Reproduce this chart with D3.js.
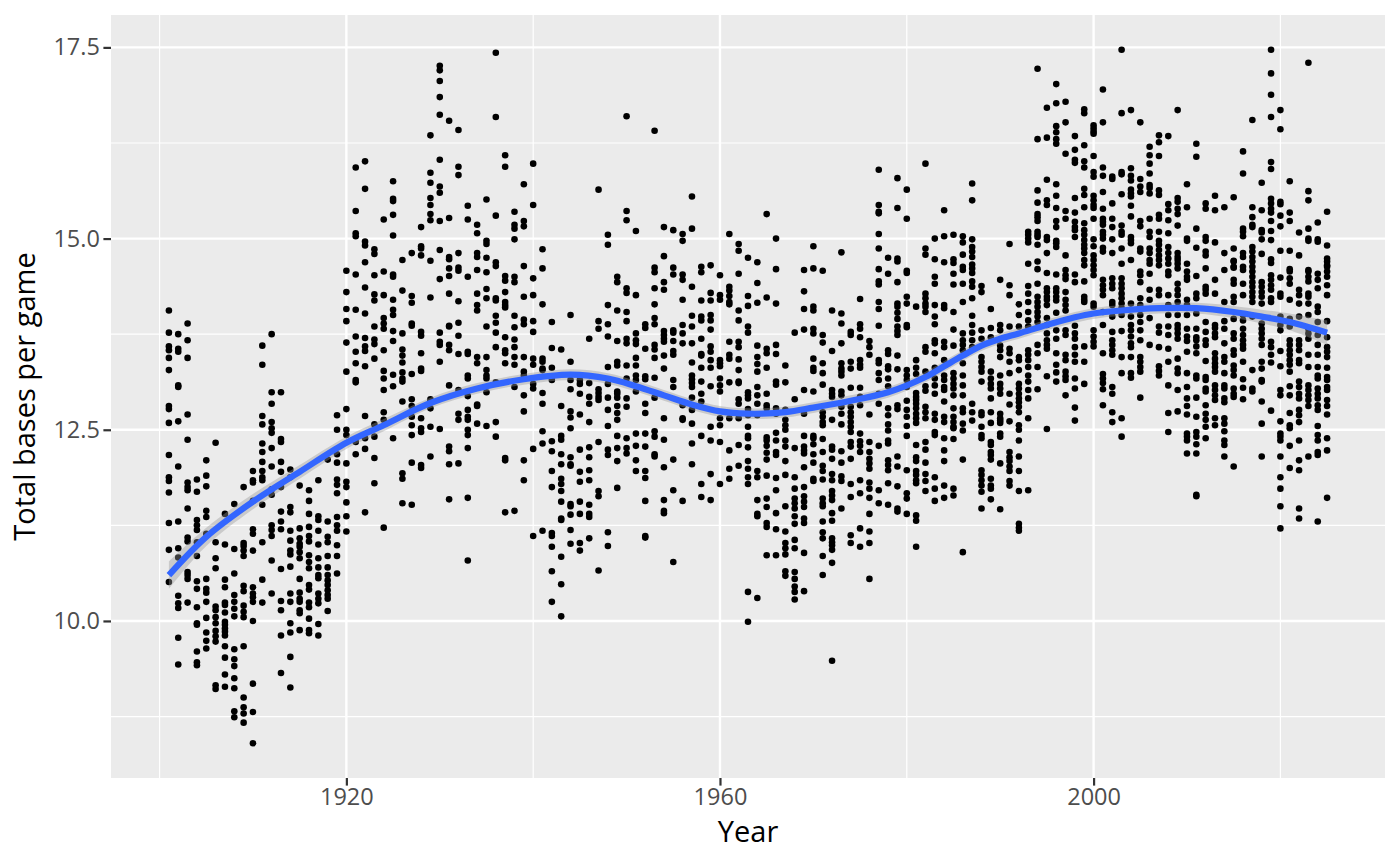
<!DOCTYPE html>
<html>
<head>
<meta charset="utf-8">
<script src="https://cdn.jsdelivr.net/npm/d3@7"></script>
<style>
  body { margin: 0; background: #fff; }
  text { font-family: "Noto Sans", sans-serif; }
</style>
</head>
<body>
<div id="chart"></div>
<script>
const firstYear = 1901;

// one row per season
const basesByYear = [
  [14.06,13.77,13.59,13.54,13.44,13.28,12.81,12.77,12.59,12.17,11.88,11.83,11.68,11.28,10.93,10.51],
  [13.75,13.56,13.52,13.08,13.06,12.61,12.02,11.30,10.95,10.83,10.33,10.23,10.17,9.78,9.43],
  [13.89,13.67,13.44,12.70,12.37,11.81,11.75,11.71,11.47,11.09,11.04,10.64,10.60,10.55,10.24],
  [11.85,11.69,11.32,11.25,11.19,11.03,10.85,10.52,10.42,10.18,9.97,9.95,9.60,9.46,9.42],
  [12.10,11.90,11.76,11.44,11.36,11.14,10.55,10.42,10.37,10.25,10.04,9.85,9.74,9.64],
  [12.33,11.03,10.82,10.69,10.19,10.14,10.05,9.97,9.87,9.80,9.73,9.16,9.11],
  [11.40,11.00,10.54,10.44,10.24,10.21,10.11,9.99,9.95,9.90,9.86,9.81,9.67,9.52,9.30,9.14],
  [11.53,10.94,10.62,10.34,10.25,10.16,10.06,9.63,9.50,9.41,9.25,9.12,8.82,8.74],
  [11.75,11.02,10.98,10.92,10.85,10.46,10.39,10.20,10.12,10.05,9.67,9.00,8.87,8.79,8.67],
  [11.96,11.84,11.81,11.57,11.20,11.14,10.92,10.44,10.36,10.31,10.25,10.00,9.18,8.81,8.40],
  [13.60,13.35,12.68,12.57,12.32,12.21,12.08,11.96,11.88,11.84,11.52,11.03,10.54,10.24],
  [13.75,12.99,12.84,12.60,12.52,12.46,12.26,12.02,11.72,11.65,11.25,11.19,11.11,10.79,10.36],
  [12.99,12.38,12.34,12.08,11.95,11.75,11.43,11.30,11.20,10.68,10.26,10.14,9.81,9.32],
  [11.98,11.88,11.49,11.42,11.18,11.05,10.92,10.87,10.71,10.36,10.25,9.97,9.85,9.53,9.13],
  [11.77,11.21,11.08,11.01,10.97,10.90,10.82,10.55,10.37,10.29,10.25,10.14,10.10,9.88],
  [11.71,11.57,11.40,11.23,11.11,11.04,10.86,10.77,10.69,10.47,10.41,10.24,10.18,10.03,9.88,9.84],
  [11.84,11.37,11.32,11.18,11.00,10.82,10.70,10.60,10.56,10.36,10.29,10.23,9.96,9.81],
  [12.11,11.30,11.10,11.03,10.85,10.70,10.60,10.53,10.47,10.40,10.34,10.29,10.13],
  [12.69,12.50,12.18,12.07,11.85,11.78,11.67,11.36,11.25,11.18,10.99,10.85,10.62],
  [14.58,14.30,14.08,13.92,13.64,13.26,12.77,12.50,12.43,12.06,11.82,11.75,11.55,11.37,11.17],
  [15.93,15.36,15.07,15.03,14.53,14.07,13.72,13.52,13.37,13.15,13.12,12.34,12.18],
  [16.01,15.65,14.96,14.91,14.69,14.36,14.02,13.70,13.59,13.53,13.33,12.68,12.39,12.25,11.42],
  [14.86,14.80,14.52,14.27,14.19,13.85,13.68,13.62,13.43,12.57,12.41,12.13,11.80],
  [15.25,14.57,14.26,13.96,13.89,13.82,13.54,13.27,13.17,13.02,12.73,12.63,11.22],
  [15.75,15.52,15.49,15.31,15.04,14.53,14.50,14.20,14.07,14.00,13.79,13.66,13.22,13.07,12.39],
  [14.72,14.32,13.76,13.55,13.47,13.38,13.25,13.17,13.13,12.87,11.93,11.86,11.54],
  [14.81,14.25,14.16,13.89,13.86,13.23,12.90,12.81,12.67,12.56,12.43,12.07,11.52],
  [15.15,14.90,14.87,14.78,13.78,13.73,13.50,13.30,13.27,12.65,12.52,12.47,12.04,12.00],
  [16.35,15.86,15.73,15.53,15.44,15.32,15.24,14.71,14.23,12.90,12.87,12.78,12.54,12.15],
  [17.26,17.20,17.06,16.85,16.62,16.03,15.68,15.60,15.23,14.85,14.47,13.77,13.65,13.61,13.39,12.51],
  [16.54,15.27,14.76,14.73,14.61,14.51,14.28,13.86,13.85,13.61,13.54,13.08,12.28,12.22,12.05,11.59],
  [16.42,15.94,15.83,14.81,14.62,14.58,14.18,13.90,13.73,13.49,13.02,12.71,12.63,12.06],
  [15.43,15.25,14.50,13.52,13.49,13.21,13.17,12.94,12.76,12.67,12.63,12.50,12.43,12.26,11.61,10.79],
  [15.18,15.07,14.81,14.76,14.59,14.28,14.13,14.06,13.45,13.37,12.83,12.81,12.58],
  [15.51,14.97,14.93,14.75,14.56,14.34,14.22,13.85,13.45,13.28,13.21,13.17,12.99,12.55],
  [17.43,16.59,15.30,14.69,14.64,14.22,14.19,13.99,13.90,13.77,13.58,13.12,12.60,12.41],
  [16.09,15.94,14.51,14.45,14.30,14.17,14.13,14.10,13.71,13.54,13.50,13.37,12.13,12.10,11.42],
  [15.35,15.18,15.13,14.99,14.50,14.43,13.99,13.84,13.68,13.58,13.45,13.35,13.06,11.44],
  [15.71,15.23,15.16,14.64,14.24,13.94,13.88,13.45,13.26,13.21,12.95,12.74,12.10,11.84],
  [15.98,15.44,14.48,14.26,13.92,13.78,13.43,13.35,13.10,13.04,12.25,11.11],
  [14.86,14.61,14.14,13.43,13.39,13.30,13.28,12.98,12.84,12.48,12.32,11.18],
  [13.91,13.57,13.31,13.15,12.35,12.22,11.96,11.75,11.15,11.11,10.97,10.65,10.25],
  [13.55,12.81,12.42,12.37,12.18,12.05,11.86,11.79,11.70,11.56,11.34,11.32,10.84,10.48,10.06],
  [14.00,13.39,13.15,13.03,12.74,12.66,12.52,12.14,12.05,12.03,11.53,11.50,11.39,11.19,11.01],
  [13.15,13.10,12.97,12.70,12.24,11.95,11.82,11.56,11.40,11.02,10.92],
  [13.69,13.11,12.93,12.84,12.60,12.27,12.14,11.97,11.84,11.52,11.40,11.36,11.08],
  [15.64,13.92,13.82,13.03,12.98,12.93,12.89,12.34,11.70,11.63,10.66],
  [15.05,14.92,14.13,13.88,13.72,13.32,13.10,12.92,12.76,12.55,12.24,12.17,11.16,10.98],
  [14.50,14.43,14.06,13.66,13.39,13.34,13.00,12.97,12.92,12.81,12.72,12.63,12.42,12.26,12.09,11.74],
  [16.60,15.36,15.24,14.35,14.29,14.04,13.92,13.69,13.63,13.34,13.17,12.91,12.80,12.39,12.26,12.19],
  [15.10,14.26,13.76,13.67,13.62,13.44,13.34,13.21,13.15,13.00,12.45,12.29,12.10,11.96],
  [13.88,13.83,13.56,13.20,13.16,12.84,12.72,12.45,12.28,11.96,11.87,11.57,11.11,11.09],
  [16.41,14.62,14.56,14.35,14.14,13.96,13.88,13.61,13.55,13.44,13.18,12.92,12.48,12.41,12.18,12.15],
  [15.15,14.77,14.43,14.33,13.79,13.74,13.69,13.65,13.47,13.30,12.65,12.37,12.01,11.58,11.44,11.41],
  [15.11,14.62,14.53,13.80,13.77,13.66,13.53,13.48,13.15,13.06,12.11,11.71,10.77],
  [15.06,14.97,14.53,14.46,14.20,13.87,13.76,13.63,12.82,12.65,12.63,11.57],
  [15.55,15.13,14.37,13.99,13.85,13.63,13.38,13.21,13.16,13.11,13.06,12.92,12.76,12.58,12.32,12.05],
  [14.63,14.56,14.19,13.98,13.93,13.69,13.49,13.47,13.31,13.13,12.97,12.87,12.42,11.79,11.62],
  [14.65,14.29,14.19,14.00,13.93,13.81,13.59,13.52,13.41,13.31,13.07,12.54,12.36,11.92,11.58],
  [14.52,14.26,14.20,13.41,13.37,13.33,13.17,13.08,13.00,12.65,12.56,12.34,11.79],
  [15.06,14.37,14.32,14.25,14.17,14.14,13.65,13.48,13.43,13.12,12.65,12.23,11.99,11.86],
  [14.93,14.84,14.54,14.06,13.93,13.65,13.58,13.42,13.28,13.13,13.11,12.90,12.84,12.65,12.30,12.03],
  [14.75,14.25,14.12,13.85,13.77,12.99,12.95,12.91,12.77,12.69,12.54,12.42,12.39,12.27,12.09,11.99,11.88,11.79,10.38,9.99],
  [14.69,14.42,14.16,13.60,13.45,13.36,13.26,13.06,12.95,12.84,12.69,11.96,11.88,11.58,11.40,11.37,10.30],
  [15.32,14.23,13.56,13.50,13.31,12.97,12.82,12.78,12.40,12.36,12.29,12.20,12.11,11.90,11.60,11.49,11.28,11.23,10.86],
  [15.00,14.60,14.15,13.61,13.49,13.13,13.09,12.78,12.71,12.46,12.36,12.21,12.17,11.87,11.71,11.41,11.20,10.86],
  [13.34,13.12,12.76,12.63,12.56,12.50,12.36,12.28,12.09,11.91,11.50,11.17,11.02,10.95,10.87,10.65,10.59],
  [13.77,12.90,12.26,11.88,11.73,11.60,11.54,11.47,11.37,11.27,11.06,10.95,10.64,10.55,10.45,10.38,10.28],
  [14.59,14.31,14.08,13.81,13.02,12.71,12.42,12.28,12.23,12.19,12.01,11.75,11.63,11.56,11.49,11.34,11.28,10.89,10.39],
  [14.90,14.61,14.11,14.06,13.82,13.76,13.43,13.31,13.27,13.00,12.42,12.39,12.31,12.18,12.07,11.86,11.83],
  [14.58,13.74,13.64,13.37,13.24,13.09,12.73,12.67,12.60,12.56,12.38,12.21,12.03,11.96,11.85,11.60,11.54,11.50,11.30,11.16,11.08,10.85,10.60],
  [14.06,13.53,13.02,12.97,12.93,12.63,12.28,12.24,12.12,11.92,11.84,11.70,11.64,11.58,11.41,11.31,11.08,11.03,10.99,10.93,10.76,9.48],
  [14.82,14.02,13.89,13.63,13.37,13.30,13.26,13.21,13.00,12.95,12.80,12.71,12.57,12.22,12.07,11.89,11.83,11.47],
  [13.78,13.74,13.39,13.30,13.05,12.80,12.73,12.67,12.60,12.54,12.47,12.34,12.28,12.12,11.79,11.62,11.12,11.02],
  [14.21,13.88,13.82,13.71,13.41,13.35,13.31,13.05,12.93,12.82,12.45,12.35,12.29,12.21,11.84,11.67,11.21,10.97],
  [13.66,13.58,13.48,12.70,12.34,12.21,12.12,12.06,11.99,11.81,11.73,11.61,11.40,11.17,11.02,10.55],
  [15.90,15.44,15.35,15.33,15.06,14.87,14.60,14.44,14.40,14.17,14.08,13.86,13.41,13.37,13.24,13.15,12.97,12.84,12.29,11.71,11.54],
  [14.75,14.54,13.54,13.49,13.33,13.29,13.17,13.07,12.78,12.69,12.57,12.49,12.36,12.32,12.10,12.04,11.97,11.80,11.52],
  [15.79,15.40,14.74,14.70,14.43,14.15,14.11,14.03,13.95,13.85,13.79,13.74,13.47,13.29,12.82,12.77,12.15,12.02,11.76,11.47,11.43],
  [15.64,15.26,14.58,14.55,14.24,14.15,13.87,13.84,13.28,13.21,13.15,13.06,12.88,12.76,12.67,12.55,12.42,11.97,11.67,11.60,11.40],
  [14.11,13.41,13.31,13.23,12.98,12.93,12.89,12.84,12.78,12.71,12.65,12.59,12.30,12.14,12.09,11.96,11.91,11.84,11.80,11.38,11.31,10.97],
  [15.98,14.87,14.79,14.28,14.22,14.15,14.11,14.04,13.58,13.52,13.26,13.07,13.01,12.80,12.73,12.65,12.34,12.24,12.07,11.92,11.83,11.70],
  [15.00,14.73,14.50,14.41,14.13,13.98,13.88,13.67,13.63,13.50,13.31,13.17,13.08,12.97,12.71,12.63,12.47,12.43,11.88,11.73,11.57],
  [15.37,15.03,14.69,14.13,14.09,13.65,13.58,13.41,13.21,13.15,13.06,13.02,12.87,12.67,12.60,12.39,12.23,12.09,11.77,11.61],
  [15.05,14.73,14.68,14.54,14.40,14.04,13.81,13.60,13.24,13.17,13.10,13.04,12.95,12.78,12.67,12.60,12.54,12.52,12.38,11.73,11.64],
  [15.03,14.95,14.79,14.63,14.59,14.41,14.17,13.76,13.67,13.61,13.54,13.37,13.21,13.08,12.95,12.78,12.73,12.58,12.49,12.11,10.90],
  [15.72,15.50,14.99,14.89,14.83,14.76,14.66,14.61,14.55,14.44,14.37,14.22,13.99,13.87,13.77,13.67,13.58,12.84,12.73,12.62],
  [14.38,14.30,13.80,13.69,13.45,13.39,13.32,13.26,13.13,12.73,12.69,12.54,12.43,12.39,11.97,11.91,11.84,11.77,11.69,11.47],
  [14.08,13.83,13.71,13.26,13.17,13.10,13.04,12.91,12.73,12.59,12.34,12.30,12.21,12.17,12.11,11.86,11.77,11.73,11.59],
  [14.46,13.87,13.80,13.60,13.54,13.45,13.21,13.10,13.04,12.97,12.71,12.62,12.65,12.59,12.45,12.41,12.06,11.46],
  [14.93,14.39,14.26,13.85,13.56,13.50,13.39,13.24,12.97,12.83,12.61,12.21,12.14,12.09,12.02,11.96,11.83,11.77],
  [14.14,14.00,13.85,13.45,13.41,13.28,13.10,13.04,12.97,12.91,12.86,12.80,12.73,12.56,12.50,12.36,12.15,11.96,11.70,11.27,11.22,11.18],
  [15.09,15.05,15.00,14.95,14.67,14.38,14.28,14.17,14.04,13.93,13.85,13.54,13.48,13.41,13.32,13.21,13.13,13.02,12.91,12.65,11.71],
  [17.22,16.30,15.63,15.47,15.32,15.28,15.23,15.09,15.05,15.02,14.92,14.70,14.60,14.41,14.24,14.17,14.11,14.04,13.98,13.91,13.61,13.50,13.32,13.03],
  [16.71,16.32,15.77,15.50,15.44,15.02,14.98,14.81,14.55,14.35,14.30,14.24,14.20,14.13,13.96,13.87,13.76,13.67,13.61,13.56,13.20,12.51],
  [17.02,16.77,16.47,16.39,16.30,16.24,15.71,15.56,15.40,15.23,15.15,14.97,14.89,14.94,14.53,14.35,14.30,14.24,14.19,14.03,13.80,13.69,13.50,13.35,13.25,13.13],
  [16.79,16.52,16.11,15.36,15.26,14.78,14.59,14.52,14.47,14.30,14.20,14.13,14.06,13.80,13.74,13.48,13.41,13.26,13.20,13.15,12.95],
  [16.34,16.16,16.03,15.99,15.53,15.34,15.22,15.15,15.11,15.02,14.53,14.43,13.86,13.76,13.69,13.58,13.48,13.39,13.17,13.04,12.79,12.62],
  [16.69,16.64,16.22,16.01,15.93,15.65,15.57,15.41,15.20,15.11,15.05,14.98,14.92,14.87,14.81,14.72,14.65,14.44,14.24,14.20,14.17,13.59,13.39,13.10],
  [16.48,16.44,16.40,16.37,16.08,15.87,15.81,15.56,15.50,15.44,15.40,15.26,14.99,14.90,14.78,14.72,14.65,14.59,14.52,14.15,14.11,13.80,13.72,13.65,13.59],
  [16.95,16.52,15.93,15.82,15.61,15.39,15.26,15.22,15.18,15.09,15.05,15.00,14.88,14.83,14.46,14.39,14.33,14.26,14.04,13.87,13.50,13.23,13.17,13.11,13.03,12.82],
  [15.81,15.78,15.46,15.26,15.15,14.99,14.81,14.48,14.41,14.35,14.17,14.13,13.98,13.78,13.67,13.61,13.54,13.48,13.06,12.97,12.73,12.60],
  [17.47,16.64,15.87,15.84,15.58,15.17,15.09,15.05,14.87,14.67,14.48,14.41,14.35,14.28,14.22,14.15,14.09,14.00,13.79,13.45,13.24,12.65,12.41],
  [16.68,15.92,15.82,15.76,15.64,15.59,15.55,15.43,15.29,15.02,14.98,14.94,14.72,14.15,13.98,13.87,13.80,13.72,13.63,13.58,13.45,13.24,13.18],
  [16.52,15.78,15.68,15.61,15.23,15.16,14.87,14.83,14.57,14.52,14.43,14.22,14.13,14.00,13.91,13.80,13.67,13.45,13.39,13.32,13.26,12.92],
  [16.20,16.09,15.98,15.85,15.70,15.66,15.59,15.26,15.09,15.02,14.87,14.81,14.72,14.67,14.54,14.33,14.20,13.96,13.61],
  [16.35,16.26,16.08,15.63,15.57,15.31,15.26,15.09,14.97,14.92,14.85,14.78,14.72,14.65,14.33,14.26,13.85,13.77,13.58,13.33,13.27,13.21],
  [16.34,15.45,15.37,15.24,15.07,14.89,14.81,14.74,14.67,14.57,14.52,14.26,14.13,14.00,13.85,13.74,13.56,13.39,13.08,12.72,12.47],
  [16.68,15.53,15.48,15.39,15.32,15.17,14.81,14.76,14.72,14.67,14.61,14.41,14.33,14.26,14.17,14.00,13.87,13.82,13.76,13.69,13.43,13.30,13.24,13.02,12.74],
  [15.71,15.41,15.00,14.97,14.67,14.57,14.50,14.46,14.20,14.13,14.00,13.82,13.72,13.66,13.52,13.24,13.06,12.91,12.81,12.70,12.45,12.41,12.36,12.19],
  [16.24,16.07,15.13,14.88,14.51,14.28,14.22,14.02,13.82,13.71,13.67,13.59,13.50,13.21,13.17,12.92,12.67,12.47,12.41,12.31,12.19,11.65,11.63],
  [15.46,15.39,15.02,14.97,14.83,14.78,14.61,14.37,14.33,14.28,13.91,13.78,13.67,13.61,13.40,13.19,13.15,13.04,13.00,12.82,12.71,12.63,12.54,12.39],
  [15.56,15.37,14.95,14.46,14.28,13.87,13.83,13.76,13.71,13.50,13.43,13.37,13.32,13.26,13.08,13.02,12.95,12.89,12.65,12.56],
  [15.41,14.81,14.59,14.17,13.92,13.82,13.63,13.45,13.39,13.24,13.08,13.04,12.91,12.86,12.65,12.58,12.48,12.36,12.30,12.15],
  [15.54,14.87,14.71,14.62,14.70,14.63,14.46,14.41,14.24,14.17,13.95,13.76,13.69,13.54,13.48,13.34,13.28,13.21,13.04,12.97,12.93,12.02],
  [16.14,15.85,15.13,15.09,15.03,14.81,14.76,14.63,14.59,14.41,14.26,14.00,13.93,13.82,13.74,13.67,13.61,13.56,13.39,13.16,13.05,12.90],
  [16.55,15.41,15.28,15.18,15.15,14.89,14.83,14.76,14.70,14.63,14.57,14.50,14.43,14.37,14.30,14.24,14.17,13.98,13.28,13.04,13.00],
  [15.73,15.37,15.11,15.08,14.99,14.80,14.43,14.37,14.30,14.24,14.15,13.89,13.82,13.76,13.69,13.61,13.39,13.30,13.15,13.13,12.87,12.58,12.15],
  [17.47,17.16,16.88,16.59,16.00,15.91,15.52,15.46,15.39,15.34,15.23,15.10,14.98,14.73,14.68,14.52,14.46,14.39,14.33,14.22,14.17,13.65,13.58,13.48,13.38,12.75],
  [16.68,16.43,15.48,15.45,15.30,15.16,14.84,14.49,14.28,14.24,13.98,13.87,13.80,13.53,13.33,13.02,12.95,12.61,12.45,12.41,12.36,12.15,11.88,11.73,11.50,11.21],
  [15.75,15.34,15.23,14.84,14.60,14.57,14.48,14.41,14.20,13.95,13.85,13.67,13.61,13.54,13.48,13.41,13.35,13.26,13.07,12.95,12.72,12.56,12.52,12.29,12.00],
  [15.08,14.78,14.33,14.26,14.15,13.98,13.67,13.61,13.54,13.41,13.37,13.13,13.06,12.97,12.91,12.76,12.69,12.60,12.36,12.10,11.97,11.47,11.34],
  [17.30,15.62,15.50,15.13,15.00,14.97,14.59,14.57,14.50,14.44,14.28,14.24,14.15,14.00,13.82,13.76,13.69,13.48,13.32,13.08,13.02,12.95,12.89,12.81,12.15],
  [15.21,14.99,14.96,14.54,14.46,14.35,14.11,14.04,13.91,13.74,13.61,13.48,13.32,13.21,13.17,13.04,12.97,12.91,12.82,12.76,12.55,12.43,12.36,12.21,12.17,11.30],
  [15.35,14.91,14.74,14.70,14.65,14.63,14.57,14.50,14.39,14.26,13.92,13.71,13.58,13.52,13.45,13.31,13.19,13.15,13.06,13.02,12.89,12.81,12.70,12.39,12.23,11.61]
];

// smooth line and its band
const smoothYears = [1901,1905,1910,1915,1920,1924,1929,1934,1939,1944,1948,1951,1954,1957,1960,1963,1967,1970,1974,1978,1982,1984,1986,1988,1990,1992,1995,1998,2000,2003,2007,2011,2015,2018,2021,2025];
const smoothValues = [10.60,11.10,11.56,11.95,12.33,12.56,12.85,13.04,13.16,13.22,13.17,13.07,12.95,12.83,12.74,12.71,12.73,12.79,12.88,12.99,13.19,13.33,13.47,13.60,13.69,13.76,13.87,13.97,14.02,14.06,14.09,14.09,14.04,13.98,13.91,13.77];
const smoothHalfBand = [0.18,0.12,0.10,0.09,0.08,0.08,0.07,0.07,0.07,0.07,0.07,0.07,0.07,0.07,0.07,0.07,0.07,0.07,0.07,0.07,0.07,0.07,0.07,0.07,0.07,0.07,0.07,0.07,0.07,0.07,0.07,0.07,0.08,0.09,0.11,0.16];

const xMajor = [1920, 1960, 2000];
const xMinor = [1900, 1940, 1980, 2020];
const yMajor = [10, 12.5, 15, 17.5];
const yMinor = [8.75, 11.25, 13.75, 16.25];

const width = 1400, height = 866;
const margin = { top: 15, right: 15, bottom: 88, left: 111 };
const plotW = width - margin.left - margin.right;
const plotH = height - margin.top - margin.bottom;

const points = [];
basesByYear.forEach((row, i) => row.forEach(v => points.push({ year: firstYear + i, bases: v })));

const xExtent = d3.extent(points, d => d.year);
const yExtent = d3.extent(points, d => d.bases);
const xPad = (xExtent[1] - xExtent[0]) * 0.05;
const yPad = (yExtent[1] - yExtent[0]) * 0.05;

const x = d3.scaleLinear().domain([xExtent[0] - xPad, xExtent[1] + xPad]).range([0, plotW]);
const y = d3.scaleLinear().domain([yExtent[0] - yPad, yExtent[1] + yPad]).range([plotH, 0]);

const svg = d3.select("#chart").append("svg")
  .attr("width", width)
  .attr("height", height)
  .style("display", "block");

const g = svg.append("g").attr("transform", `translate(${margin.left},${margin.top})`);

// panel
g.append("rect").attr("width", plotW).attr("height", plotH).attr("fill", "#EBEBEB");

// grid
const grid = (vals, sw) => {
  g.selectAll(null).data(vals.x).enter().append("line")
    .attr("x1", d => x(d)).attr("x2", d => x(d)).attr("y1", 0).attr("y2", plotH)
    .attr("stroke", "#fff").attr("stroke-width", sw);
  g.selectAll(null).data(vals.y).enter().append("line")
    .attr("y1", d => y(d)).attr("y2", d => y(d)).attr("x1", 0).attr("x2", plotW)
    .attr("stroke", "#fff").attr("stroke-width", sw);
};
grid({ x: xMinor, y: yMinor }, 1.2);
grid({ x: xMajor, y: yMajor }, 2.4);

// points
g.selectAll(".pt").data(points).enter().append("circle")
  .attr("class", "pt")
  .attr("cx", d => x(d.year))
  .attr("cy", d => y(d.bases))
  .attr("r", 3.3)
  .attr("fill", "#000");

// smooth
const smooth = smoothYears.map((yr, i) => ({ yr, v: smoothValues[i], h: smoothHalfBand[i] }));

g.append("path").datum(smooth)
  .attr("d", d3.area().x(d => x(d.yr)).y0(d => y(d.v - d.h)).y1(d => y(d.v + d.h)).curve(d3.curveCatmullRom))
  .attr("fill", "#999").attr("fill-opacity", 0.4);

g.append("path").datum(smooth)
  .attr("d", d3.line().x(d => x(d.yr)).y(d => y(d.v)).curve(d3.curveCatmullRom))
  .attr("fill", "none").attr("stroke", "#3366FF").attr("stroke-width", 6.2);

// axes
const xAxis = g.append("g").attr("transform", `translate(0,${plotH})`)
  .call(d3.axisBottom(x).tickValues(xMajor).tickFormat(d3.format("d")).tickSize(7.6).tickPadding(3));
const yAxis = g.append("g")
  .call(d3.axisLeft(y).tickValues(yMajor).tickFormat(d3.format(".1f")).tickSize(7.6).tickPadding(3.5));

[xAxis, yAxis].forEach(a => {
  a.select(".domain").remove();
  a.selectAll(".tick line").attr("stroke", "#333").attr("stroke-width", 2.2);
  a.selectAll(".tick text").attr("fill", "#4D4D4D").style("font-size", "23.5px").style("font-family", '"Open Sans", sans-serif');
});

svg.append("text")
  .attr("x", margin.left + plotW / 2)
  .attr("y", 842)
  .attr("text-anchor", "middle")
  .style("font-size", "29px")
  .attr("fill", "#000")
  .style("font-family", '"Open Sans", sans-serif')
  .text("Year");

svg.append("text")
  .attr("transform", `translate(35,${margin.top + plotH / 2}) rotate(-90)`)
  .attr("text-anchor", "middle")
  .style("font-size", "29px")
  .attr("fill", "#000")
  .style("font-family", '"Open Sans", sans-serif')
  .text("Total bases per game");
</script>
</body>
</html>
